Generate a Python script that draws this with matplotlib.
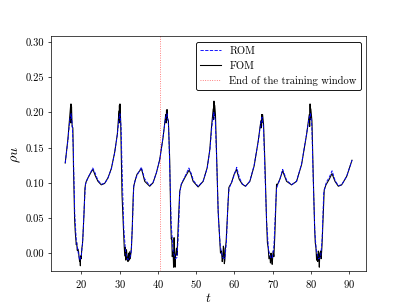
import matplotlib
matplotlib.use("Agg")
import matplotlib.pyplot as plt

plt.rcParams['font.family'] = 'serif'
plt.rcParams['font.serif'] = ['cmr10']
plt.rcParams['mathtext.fontset'] = 'cm'
plt.rcParams['axes.formatter.use_mathtext'] = True
plt.rcParams['font.size'] = 12

t_train_end = 40.6

fom_t = [15.8, 16.5, 17.0, 17.2, 17.25, 17.3, 17.38, 17.45, 17.6, 17.8, 17.95, 18.25, 18.42, 18.55, 18.68, 18.8, 18.94,
         19.1, 19.29, 19.4, 19.55, 19.65, 19.75, 19.82, 19.95, 20.17, 20.3, 20.43, 20.7, 20.95, 21.1, 21.3, 21.74, 22.43, 23.04,
         23.65, 24.35, 25.22, 26.09, 26.97, 27.84, 28.71, 29.41, 29.84, 29.9, 29.95, 30.02, 30.1, 30.28, 30.63,
         31.06, 31.2, 31.35, 31.5, 31.65, 31.8, 32.02, 32.2, 32.35, 32.5, 32.63, 32.8, 33.1, 33.3, 33.55, 33.7, 34.0,
         34.55, 35.69, 36.1, 36.56, 37.87, 38.74, 39.61, 40.48, 41.35, 42.05, 42.15, 42.25, 42.35, 42.4, 42.5,
         42.75, 43.1, 43.36, 43.5, 43.62, 43.75, 43.97, 44.1, 44.23, 44.35, 44.49, 44.6, 44.84, 45.0, 45.28, 45.71,
         46.15, 47.02, 48.15, 48.6, 49.2, 50.51, 51.82, 52.86, 53.56, 53.99, 54.45, 54.55, 54.65, 54.75, 54.85,
         55.04, 55.39, 55.74, 56.17, 56.35, 56.61, 56.8, 56.96, 57.1, 57.22, 57.35, 57.48, 57.6, 57.83, 58.18,
         58.53, 58.7, 59.23, 59.92, 60.53, 61.23, 62.02, 62.89, 64.02, 65.15, 66.2, 66.9, 67.0, 67.1, 67.25, 67.35,
         67.6, 67.94, 68.38, 68.6, 68.82, 69.0, 69.25, 69.4, 69.55, 69.69, 69.85, 70.12, 70.3, 70.56, 70.99, 71.2,
         71.87, 72.57, 73.61, 74.92, 76.23, 77.54, 78.85, 79.54, 79.65, 79.75, 79.85, 79.95, 80.24, 80.59, 80.94,
         81.1, 81.29, 81.45, 81.64, 81.75, 81.9, 82.05, 82.16, 82.3, 82.51, 82.65, 82.86, 83.2, 83.45, 83.9, 84.77,
         85.47, 86.26, 87.13, 88.0, 89.31, 90.7]
fom_y = [0.128, 0.162, 0.195, 0.209, 0.185, 0.212, 0.195, 0.208, 0.180, 0.178, 0.125, 0.048, 0.030, 0.020, 0.012, 0.015, 0.004,
         0.006, 0.002, -0.005, -0.012, -0.008, -0.018, -0.004, -0.008, 0.008, 0.012, 0.025, 0.055, 0.092, 0.098, 0.102, 0.107, 0.114, 0.119,
         0.110, 0.102, 0.097, 0.099, 0.107, 0.120, 0.143, 0.169, 0.202, 0.185, 0.210, 0.190, 0.212, 0.188, 0.083,
         0.027, 0.010, -0.004, 0.008, -0.010, 0.005, -0.007, -0.012, 0.000, -0.010, 0.002, -0.008, 0.008, 0.034, 0.080, 0.095, 0.102,
         0.112, 0.120, 0.112, 0.102, 0.095, 0.100, 0.114, 0.133, 0.164, 0.197, 0.185, 0.203, 0.190, 0.204, 0.192,
         0.188, 0.131, 0.046, 0.020, 0.022, -0.005, 0.003, -0.020, 0.022, 0.000, -0.020, -0.005, 0.007, -0.003, 0.036, 0.088,
         0.098, 0.107, 0.118, 0.113, 0.102, 0.094, 0.102, 0.121, 0.147, 0.178, 0.205, 0.190, 0.216, 0.195, 0.210,
         0.197, 0.131, 0.060, 0.017, 0.000, 0.003, -0.012, -0.007, 0.010, 0.007, -0.015, -0.011, 0.005, 0.017, 0.055,
         0.093, 0.095, 0.100, 0.112, 0.119, 0.105, 0.098, 0.095, 0.102, 0.124, 0.159, 0.188, 0.178, 0.197, 0.185, 0.197,
         0.183, 0.131, 0.046, 0.015, 0.007, -0.008, -0.004, -0.014, 0.000, -0.009, -0.016, 0.003, -0.005, 0.027, 0.098, 0.097,
         0.105, 0.117, 0.102, 0.097, 0.102, 0.126, 0.169, 0.197, 0.180, 0.212, 0.190, 0.205, 0.188, 0.107, 0.036,
         0.015, 0.007, -0.010, -0.002, -0.012, 0.003, -0.005, -0.020, 0.000, 0.003, -0.008, 0.010, 0.058, 0.090, 0.097, 0.105,
         0.113, 0.102, 0.095, 0.097, 0.109, 0.132]

rom_t = [15.8, 16.5, 17.0, 17.35, 17.6, 17.9, 18.3, 18.7, 19.2, 19.6, 20.0, 20.4, 20.8, 21.1, 21.6, 22.3, 23.0, 23.6,
         24.3, 25.2, 26.1, 27.0, 27.9, 28.7, 29.4, 29.9, 30.1, 30.4, 30.7, 31.1, 31.6, 32.1, 32.6, 33.0, 33.35, 33.7,
         34.2, 34.8, 35.7, 36.5, 37.8, 38.7, 39.6, 40.5, 41.3, 42.0, 42.4, 42.8, 43.1, 43.5, 44.0, 44.6, 45.0, 45.4,
         45.7, 46.1, 47.0, 48.1, 48.8, 49.3, 50.5, 51.8, 52.9, 53.6, 54.1, 54.6, 55.0, 55.4, 55.8, 56.3, 56.9, 57.5,
         57.9, 58.3, 58.6, 59.3, 60.0, 60.6, 61.3, 62.1, 62.9, 64.0, 65.1, 66.2, 66.9, 67.2, 67.6, 67.9, 68.4, 68.9,
         69.4, 69.9, 70.3, 70.7, 71.0, 71.8, 72.6, 73.6, 74.9, 76.2, 77.5, 78.8, 79.5, 79.85, 80.2, 80.6, 81.0, 81.4,
         82.0, 82.5, 82.9, 83.3, 84.0, 84.7, 85.5, 86.3, 87.1, 88.0, 89.3, 90.7]
rom_y = [0.128, 0.160, 0.190, 0.198, 0.185, 0.150, 0.055, 0.018, 0.000, -0.010, -0.004, 0.020, 0.070, 0.098, 0.105, 0.113, 0.121, 0.114,
         0.104, 0.098, 0.099, 0.107, 0.121, 0.142, 0.168, 0.193, 0.198, 0.180, 0.110, 0.035, 0.000, -0.009, -0.008, 0.000, 0.040, 0.095,
         0.106, 0.113, 0.122, 0.106, 0.096, 0.100, 0.114, 0.133, 0.163, 0.192, 0.198, 0.180, 0.120, 0.040, 0.002, -0.008, -0.006, 0.030,
         0.085, 0.098, 0.108, 0.121, 0.112, 0.103, 0.095, 0.102, 0.121, 0.147, 0.180, 0.200, 0.188, 0.125, 0.050, 0.010, -0.006, -0.008,
         0.015, 0.070, 0.092, 0.101, 0.112, 0.122, 0.107, 0.098, 0.095, 0.102, 0.124, 0.158, 0.186, 0.193, 0.178, 0.125, 0.045, 0.005,
         -0.006, -0.007, 0.010, 0.060, 0.092, 0.104, 0.119, 0.104, 0.097, 0.102, 0.126, 0.168, 0.192, 0.198, 0.182, 0.100, 0.030, 0.003,
         -0.008, -0.006, 0.020, 0.085, 0.101, 0.107, 0.117, 0.103, 0.096, 0.097, 0.109, 0.132]

fig = plt.figure(figsize=(6.4, 4.8), dpi=63.6)
ax = fig.add_subplot(111)
ax.plot(fom_t, fom_y, color='black', lw=1.2, label='FOM', zorder=2)
ax.plot(rom_t, rom_y, color='blue', lw=1.0, ls='--', label='ROM', zorder=3)
ax.axvline(t_train_end, color='red', ls=':', lw=1.0, alpha=0.6, label='End of the training window')

handles, labels = ax.get_legend_handles_labels()
order = [1, 0, 2]
leg = ax.legend([handles[i] for i in order], [labels[i] for i in order], loc='upper right',
                edgecolor='black', framealpha=1.0, fontsize=12)

ax.set_ylim(-0.026, 0.308)
ax.set_yticks([0.0, 0.05, 0.10, 0.15, 0.20, 0.25, 0.30])
ax.set_yticklabels(['0.00', '0.05', '0.10', '0.15', '0.20', '0.25', '0.30'])
ax.set_xlabel('$t$', fontsize=15, labelpad=2)
ax.set_ylabel(r'$\rho u$', fontsize=16)

fig.savefig('out.png', dpi=63.6)
